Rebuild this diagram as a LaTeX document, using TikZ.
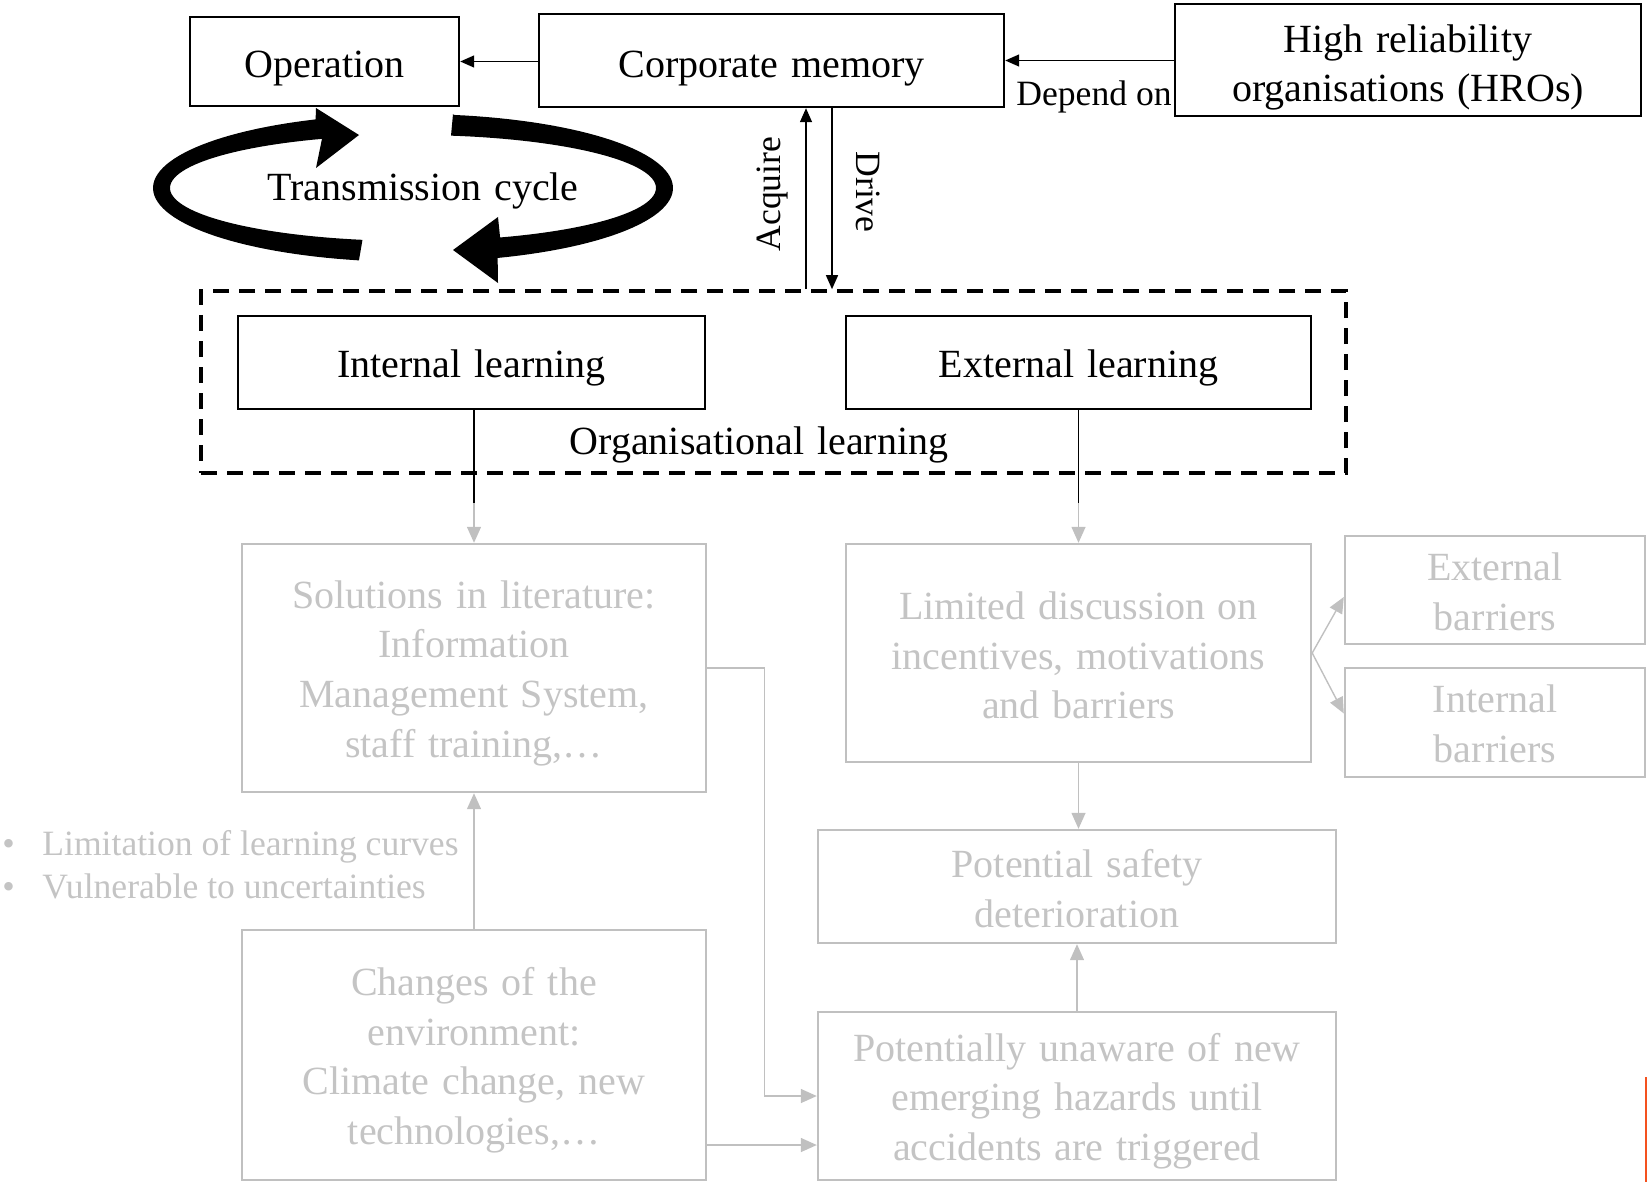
\documentclass[tikz,border=0pt]{standalone}
\usepackage{fontspec}
\setmainfont{Liberation Serif}
\usetikzlibrary{arrows.meta,calc}
\definecolor{lg}{RGB}{196,196,196}
\definecolor{lgl}{RGB}{192,192,192}
\definecolor{edgeorange}{RGB}{244,81,30}
\newcommand{\mainfnt}{\fontsize{20}{24.8}\selectfont\spaceskip=0.32em plus 0.1em\relax}
\begin{document}
\begin{tikzpicture}[x=0.5pt,y=-0.5pt,
  txt/.style={font=\mainfnt, align=center},
  small/.style={font=\fontsize{17.8}{21.5}\selectfont, align=center},
  bbox/.style={draw=black, line width=1.2pt, inner sep=0pt},
  gbox/.style={draw=lgl, line width=1.2pt, inner sep=0pt},
  btext/.style={txt, yshift=-2.6pt},
  gtext/.style={txt, text=lg, yshift=-2.6pt},
  barrow/.style={draw=black, line width=0.7pt, -{Triangle[length=7pt,width=6pt]}},
  garrow/.style={draw=lgl, line width=0.7pt, -{Triangle[length=8pt,width=7pt]}},
]
\useasboundingbox (0,0) rectangle (1647,1182);

% top row
\node[bbox, minimum width=134.5pt, minimum height=44.5pt] (op) at (324.5,61.5) {};
\node[btext, yshift=-1.1pt] (opt) at (op.center) {Operation};
\node[bbox, minimum width=232.5pt, minimum height=46.5pt] (cm) at (771.5,60.5) {};
\node[btext, yshift=-1.4pt] (cmt) at (cm.center) {Corporate memory};
\node[bbox, minimum width=233pt, minimum height=56pt] (hro) at (1408,60) {};
\node[btext, yshift=-1.1pt] (hrot) at (hro.center) {High reliability\\organisations (HROs)};

\draw[barrow] (cm.west |- op.east) -- (op.east);
\draw[barrow] (hro.west |- cm.east) -- (cm.east);
\node[small] (dep) at (1094,97) {Depend on};

% transmission cycle
\fill[black] (453,114) -- plot[domain=81:-71,samples=60] ({413+260*cos(\x)},{188-74*sin(\x)})
  -- (498,283) -- (453,250) -- (498,217)
  -- plot[domain=-69:81,samples=60] ({413+243*cos(\x)},{188-53*sin(\x)}) -- cycle;
\fill[black] plot[domain=258:112,samples=60] ({413+260*cos(\x)},{188-74*sin(\x)})
  -- (316,108) -- (359,135) -- (316,168)
  -- plot[domain=112:258,samples=60] ({413+243*cos(\x)},{188-53*sin(\x)}) -- cycle;
\node[btext] (tc) at (423,186) {Transmission cycle};

% organisational learning
\node[draw, line width=1.8pt, dash pattern=on 8pt off 5pt, minimum width=572.5pt, minimum height=91pt, inner sep=0pt] (org) at (773.5,382) {};
\node[btext] (orglab) at (759,440) {Organisational learning};
\node[bbox, minimum width=233.5pt, minimum height=46.5pt] (il) at (471.5,362.5) {};
\node[btext] (ilt) at (il.center) {Internal learning};
\node[bbox, minimum width=232.5pt, minimum height=46.5pt] (el) at (1078.5,362.5) {};
\node[btext] (elt) at (el.center) {External learning};

\coordinate (ax) at (806,0);
\coordinate (dx) at (832,0);
\draw[barrow] (org.north -| ax) -- (cm.south -| ax);
\draw[barrow] (cm.south -| dx) -- (org.north -| dx);
\node[small, rotate=90] (acq) at (772,194) {Acquire};
\node[small, rotate=-90] (drv) at (868,192) {Drive};

% grey boxes
\node[gbox, minimum width=232pt, minimum height=124pt] (sol) at (474,668) {};
\node[gtext] (solt) at (sol.center) {Solutions in literature:\\Information\\Management System,\\staff training,\dots};
\node[gbox, minimum width=232.5pt, minimum height=109pt] (lim) at (1078.5,653) {};
\node[gtext, yshift=1.4pt] (limt) at (lim.center) {Limited discussion on\\incentives, motivations\\and barriers};
\node[gbox, minimum width=150pt, minimum height=54pt] (eb) at (1495,590) {};
\node[gtext, yshift=1.8pt] (ebt) at (eb.center) {External\\barriers};
\node[gbox, minimum width=150pt, minimum height=54.5pt] (ib) at (1495,722.5) {};
\node[gtext, yshift=1.8pt] (ibt) at (ib.center) {Internal\\barriers};
\node[gbox, minimum width=259pt, minimum height=56.5pt] (psd) at (1077,886.5) {};
\node[gtext, yshift=1.4pt] (psdt) at (psd.center) {Potential safety\\deterioration};
\node[gbox, minimum width=259pt, minimum height=84pt] (pu) at (1077,1096) {};
\node[gtext] (put) at (pu.center) {Potentially unaware of new\\emerging hazards until\\accidents are triggered};
\node[gbox, minimum width=232pt, minimum height=125pt] (ch) at (474,1055) {};
\node[gtext] (cht) at (ch.center) {Changes of the\\environment:\\Climate change, new\\technologies,\dots};

\node[small, text=lg, anchor=west, align=left, inner sep=0pt] (bul) at (2,865) {\makebox[20pt][l]{•}Limitation of learning curves\\\makebox[20pt][l]{•}Vulnerable to uncertainties};

% connectors
\coordinate (ilb) at (474,503);
\coordinate (elb) at (1078.5,503);
\draw[line width=0.7pt] (il.south -| sol.north) -- (ilb);
\draw[garrow] (ilb) -- (sol.north);
\draw[line width=0.7pt] (el.south -| lim.north) -- (elb);
\draw[garrow] (elb) -- (lim.north);

\draw[garrow] (lim.east) -- ($(eb.west)+(0,7)$);
\draw[garrow] (lim.east) -- ($(ib.west)+(0,-9)$);
\draw[garrow] (lim.south) -- (lim.south |- psd.north);
\draw[garrow] (pu.north) -- (psd.south);
\draw[garrow] (ch.north) -- (sol.south);
\draw[garrow] (sol.east) -- ++(57,0) |- (pu.west);
\coordinate (chy) at (0,1145);
\draw[garrow] (ch.east |- chy) -- (pu.west |- chy);

\draw[edgeorange, line width=0.8pt] (1646,1077) -- (1646,1182);
\end{tikzpicture}
\end{document}
